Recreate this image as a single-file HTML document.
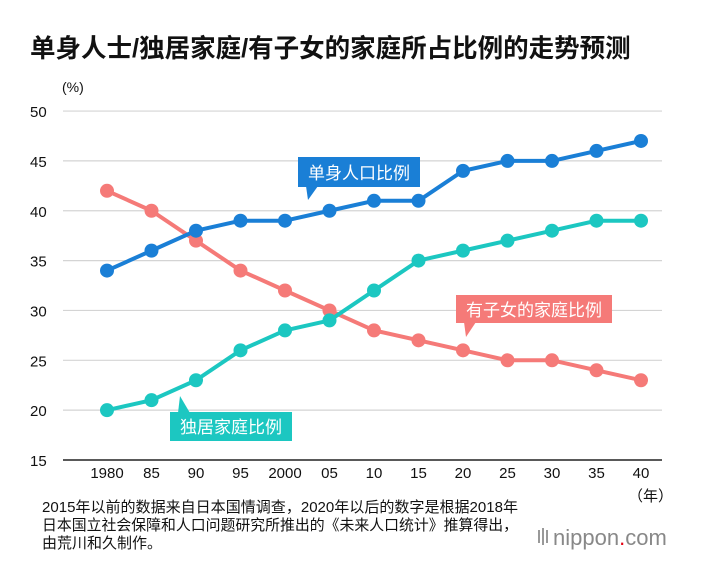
<!DOCTYPE html>
<html><head><meta charset="utf-8"><style>
body{margin:0;background:#fff;font-family:"Liberation Sans","Noto Sans CJK SC",sans-serif;}
</style></head><body>
<svg width="709" height="565" viewBox="0 0 709 565" xmlns="http://www.w3.org/2000/svg" font-family="Liberation Sans, Noto Sans CJK SC, sans-serif">
<text x="30" y="57" font-size="25.5" font-weight="bold" fill="#111">单身人士/独居家庭/有子女的家庭所占比例的走势预测</text>
<text x="62" y="92" font-size="14" fill="#111">(%)</text>
<g id="grid"></g><g id="series"></g>
<text x="628" y="501" font-size="15" fill="#111">（年）</text>
<g>
<rect x="298" y="157" width="122" height="30" fill="#1a7fd6"/><polygon points="306,186 318,186 308,200" fill="#1a7fd6"/>
<text x="359" y="179" font-size="17" fill="#fff" text-anchor="middle">单身人口比例</text></g>
<g>
<rect x="456" y="295" width="156" height="28" fill="#f57a78"/><polygon points="464,322 476,322 466,337" fill="#f57a78"/>
<text x="534" y="316" font-size="17" fill="#fff" text-anchor="middle">有子女的家庭比例</text></g>
<g>
<rect x="170" y="412" width="122" height="29" fill="#1cc7c1"/><polygon points="178,413 190,413 180,396" fill="#1cc7c1"/>
<text x="231" y="433" font-size="17" fill="#fff" text-anchor="middle">独居家庭比例</text></g>
<g font-size="15" fill="#111">
<text x="42" y="512" textLength="476" lengthAdjust="spacingAndGlyphs">2015年以前的数据来自日本国情调查，2020年以后的数字是根据2018年</text>
<text x="42" y="530" textLength="476" lengthAdjust="spacingAndGlyphs">日本国立社会保障和人口问题研究所推出的《未来人口统计》推算得出，</text>
<text x="42" y="548">由荒川和久制作。</text></g>
<g>
<rect x="538" y="530" width="2" height="13" fill="#999"/><rect x="542" y="528" width="2" height="17" fill="#999"/><rect x="546" y="530" width="2" height="13" fill="#999"/>
<text x="553" y="545" font-size="22" fill="#888">nippon<tspan fill="#e60012">.</tspan>com</text></g>
</svg>
<script>
const categories=["1980","85","90","95","2000","05","10","15","20","25","30","35","40"];
const yTicks=[15,20,25,30,35,40,45,50];
const singleValues=[34,36,38,39,39,40,41,41,44,45,45,46,47];
const aloneValues=[20,21,23,26,28,29,32,35,36,37,38,39,39];
const childrenValues=[42,40,37,34,32,30,28,27,26,25,25,24,23];
const NS="http://www.w3.org/2000/svg";
const x=i=>107+i*44.5, y=v=>460-(v-15)*9.97;
const grid=document.getElementById('grid'), ser=document.getElementById('series');
function mk(tag,at,p){const e=document.createElementNS(NS,tag);for(const k in at)e.setAttribute(k,at[k]);p.appendChild(e);return e;}
yTicks.forEach(t=>{
 const l=mk('line',{x1:63,x2:662,y1:y(t),y2:y(t),stroke:t===15?'#222':'#d4d4d4','stroke-width':t===15?1.5:1.2},grid);
 
 
 const tx=mk('text',{x:30,y:y(t)+6,'font-size':15,fill:'#111'},grid);tx.textContent=t;
 
 
});
categories.forEach((c,i)=>{
 const tx=mk('text',{x:x(i),y:478,'font-size':15,fill:'#111','text-anchor':'middle'},grid);tx.textContent=c;
 
 
});
function draw(vals,col,name){
 const g=mk('g',{},ser);
 
 
 const pl=mk('polyline',{points:vals.map((v,i)=>x(i)+','+y(v)).join(' '),fill:'none',stroke:col,'stroke-width':4,'stroke-linejoin':'round'},g);
 
 
 vals.forEach((v,i)=>{const c=mk('circle',{cx:x(i),cy:y(v),r:7,fill:col},g);
  
  });
}
draw(childrenValues,'#f57a78','children-series');
draw(aloneValues,'#1cc7c1','alone-series');
draw(singleValues,'#1a7fd6','single-series');
</script>
</body></html>
